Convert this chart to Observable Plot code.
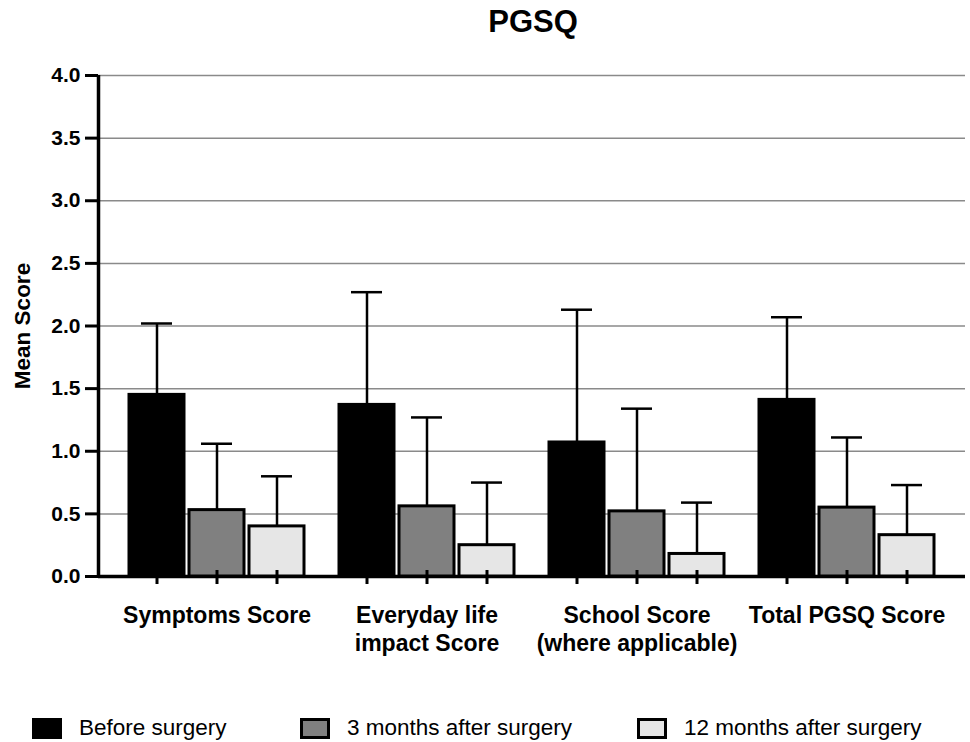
<!DOCTYPE html>
<html><head><meta charset="utf-8">
<script src="https://cdn.jsdelivr.net/npm/d3@7"></script>
<script src="https://cdn.jsdelivr.net/npm/@observablehq/plot@0.6"></script>
<style>
body{margin:0;background:#fff;font-family:"Liberation Sans",Arial,Helvetica,sans-serif;}
#wrap{position:relative;width:970px;height:742px;overflow:hidden;}
#title{position:absolute;top:6px;left:96px;width:874px;text-align:center;font-weight:bold;font-size:31px;line-height:31px;color:#000;}
#base,#bars{position:absolute;top:50px;left:0;}
#legend{position:absolute;top:716px;left:0;width:970px;height:26px;}
.item{position:absolute;top:0;display:flex;align-items:center;font-size:22.5px;line-height:24px;color:#000;white-space:nowrap;}
.sw{width:24px;height:15px;border:3px solid #000;margin-right:17px;}
</style></head>
<body>
<div id="wrap">
  <div id="title">PGSQ</div>
  <div id="base"></div>
  <div id="bars"></div>
  <div id="legend"></div>
</div>
<script>
// ---- data ----
const groups = ["Symptoms Score", "Everyday life\nimpact Score", "School Score\n(where applicable)", "Total PGSQ Score"];
const series = ["Before surgery", "3 months after surgery", "12 months after surgery"];
const beforeMean = [1.45, 1.37, 1.07, 1.41];
const beforeSD   = [0.57, 0.90, 1.06, 0.66];
const month3Mean = [0.53, 0.56, 0.52, 0.55];
const month3SD   = [0.53, 0.71, 0.82, 0.56];
const month12Mean = [0.40, 0.25, 0.18, 0.33];
const month12SD   = [0.40, 0.50, 0.41, 0.40];
const yTicks = [0, 0.5, 1, 1.5, 2, 2.5, 3, 3.5, 4];
const yLabel = "Mean Score";
const seriesColors = ["#000000", "#808080", "#e6e6e6"];

const means = [beforeMean, month3Mean, month12Mean];
const sds = [beforeSD, month3SD, month12SD];
const data = groups.flatMap((g, i) => series.map((s, j) => ({group: g, series: s, mean: means[j][i], sd: sds[j][i]})));

const font = '"Liberation Sans", Arial, Helvetica, sans-serif';
const dims = {width: 970, height: 626, marginLeft: 98, marginRight: 5, marginTop: 25, marginBottom: 100};

const base = Plot.plot({
  ...dims,
  style: {fontFamily: font, background: "transparent", color: "#000", overflow: "visible"},
  y: {domain: [0, 4]},
  x: {domain: [0, 1], axis: null},
  marks: [
    Plot.gridY(yTicks, {stroke: "#8a8a8a", strokeOpacity: 1, strokeWidth: 1.5}),
    Plot.ruleY([0], {strokeWidth: 3.5, stroke: "#000"}),
    Plot.ruleX([0], {y1: d3.min(yTicks), y2: d3.max(yTicks), strokeWidth: 3.5, stroke: "#000"}),
    Plot.ruleY(yTicks, {y: d => d, x1: 0, x2: 0, insetLeft: -13, strokeWidth: 3, stroke: "#000"}),
    Plot.axisY(yTicks, {
      tickSize: 0, tickPadding: 18,
      tickFormat: d => d.toFixed(1), fontSize: 21, fontWeight: "bold", label: null
    }),
    Plot.text([yLabel], {text: d => d, frameAnchor: "left", textAnchor: "middle", rotate: -90, dx: -76, fontSize: 22.5, fontWeight: "bold", fill: "#000"})
  ]
});
document.getElementById("base").append(base);

const bars = Plot.plot({
  ...dims,
  style: {fontFamily: font, background: "transparent", color: "#000", overflow: "visible"},
  y: {domain: [0, 4], axis: null},
  fx: {domain: groups, paddingInner: 0.165, paddingOuter: 0.143, label: null},
  x: {domain: series, paddingInner: 0.09, paddingOuter: 0, label: null},
  color: {domain: series, range: seriesColors},
  marks: [
    Plot.ruleX(data, {fx: "group", x: "series", y1: "mean", y2: d => d.mean + d.sd, strokeWidth: 2.5, stroke: "#000"}),
    Plot.tickY(data, {fx: "group", x: "series", y: d => d.mean + d.sd, strokeWidth: 2.5, stroke: "#000", insetLeft: 12, insetRight: 12}),
    Plot.barY(data, {fx: "group", x: "series", y: "mean", fill: "series", stroke: "#000", strokeWidth: 3}),
    Plot.axisX({tickSize: 14, dy: -6, strokeWidth: 3, tickFormat: () => "", label: null}),
    Plot.axisFx({anchor: "bottom", tickSize: 0, tickPadding: 27, fontSize: 23, fontWeight: "bold", lineHeight: 1.22, label: null})
  ]
});
document.getElementById("bars").append(bars);

// legend
const legendLeft = [32, 300, 637];
const leg = d3.select("#legend");
series.forEach((s, i) => {
  const it = leg.append("div").attr("class", "item").style("left", legendLeft[i] + "px");
  it.append("div").attr("class", "sw").style("background", bars.scale("color").apply(s));
  it.append("span").text(s);
});
</script>
</body></html>
